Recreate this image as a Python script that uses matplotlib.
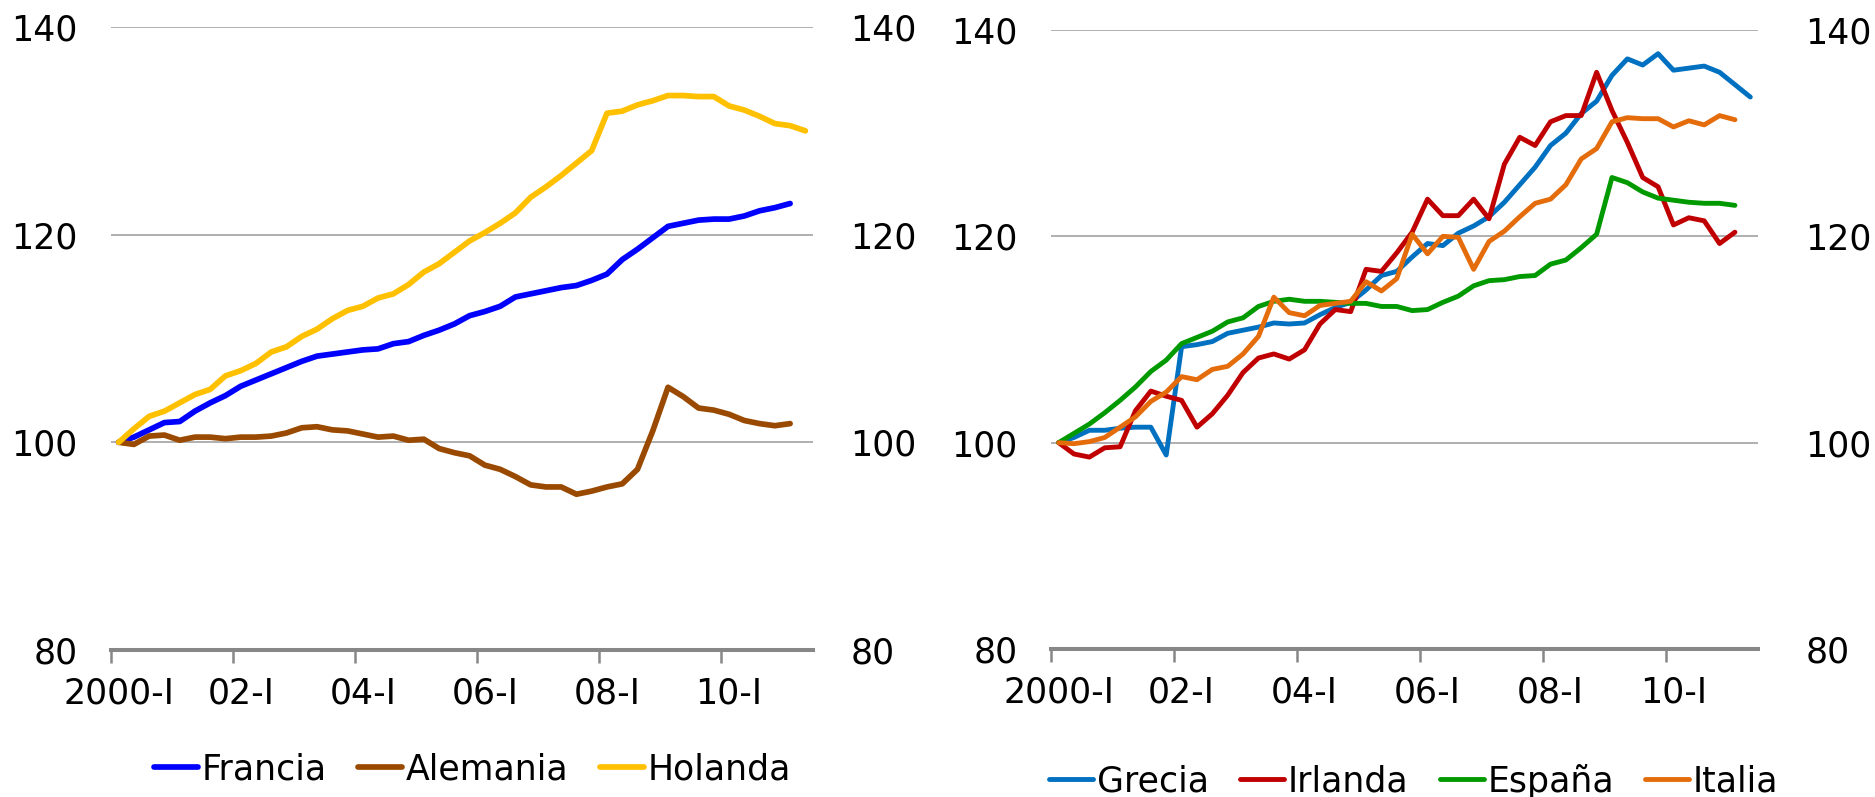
import numpy as np
import matplotlib
matplotlib.use("Agg")
import matplotlib.pyplot as plt

plt.rcParams['font.family'] = ['DejaVu Sans']

# quarterly index, 2000-I = 100
quarter_labels = ["2000-I", "02-I", "04-I", "06-I", "08-I", "10-I"]
n_quarters = 46

francia = [100.0, 100.5, 101.2, 101.9, 102.0, 103.0, 103.8, 104.5, 105.4, 106.0,
           106.6, 107.2, 107.8, 108.3, 108.5, 108.7, 108.9, 109.0, 109.5, 109.7,
           110.3, 110.8, 111.4, 112.2, 112.6, 113.1, 114.0, 114.3, 114.6, 114.9,
           115.1, 115.6, 116.2, 117.6, 118.6, 119.7, 120.8, 121.1, 121.4, 121.5,
           121.5, 121.8, 122.3, 122.6, 123.0]
alemania = [100.0, 99.8, 100.6, 100.7, 100.2, 100.5, 100.5, 100.35, 100.5, 100.5,
            100.6, 100.9, 101.4, 101.5, 101.2, 101.1, 100.8, 100.5, 100.6, 100.2,
            100.3, 99.4, 99.0, 98.7, 97.8, 97.4, 96.7, 95.9, 95.7, 95.7,
            95.0, 95.3, 95.7, 96.0, 97.4, 101.1, 105.3, 104.4, 103.3, 103.1,
            102.7, 102.1, 101.8, 101.6, 101.8]
holanda = [100.0, 101.3, 102.5, 103.0, 103.8, 104.6, 105.1, 106.4, 106.9, 107.6,
           108.7, 109.2, 110.2, 110.9, 111.9, 112.7, 113.1, 113.9, 114.3, 115.2,
           116.4, 117.2, 118.3, 119.4, 120.2, 121.1, 122.1, 123.6, 124.6, 125.7,
           126.9, 128.1, 131.7, 131.9, 132.5, 132.9, 133.4, 133.4, 133.3, 133.3,
           132.4, 132.0, 131.4, 130.7, 130.5, 130.0]

grecia = [100.0, 100.5, 101.2, 101.2, 101.4, 101.5, 101.5, 98.8, 109.3, 109.5,
          109.8, 110.6, 110.9, 111.2, 111.6, 111.5, 111.6, 112.4, 113.1, 113.6,
          114.8, 116.2, 116.6, 118.0, 119.3, 119.1, 120.3, 121.0, 121.9, 123.3,
          125.0, 126.7, 128.8, 130.0, 131.9, 133.1, 135.6, 137.2, 136.6, 137.7,
          136.1, 136.3, 136.5, 135.9, 134.7, 133.5]
irlanda = [100.0, 98.9, 98.6, 99.5, 99.6, 103.1, 105.0, 104.5, 104.1, 101.5,
           102.8, 104.6, 106.8, 108.2, 108.6, 108.1, 109.0, 111.5, 112.9, 112.7,
           116.8, 116.6, 118.4, 120.4, 123.6, 122.0, 122.0, 123.6, 121.7, 127.0,
           129.6, 128.8, 131.1, 131.7, 131.7, 135.9, 132.2, 129.1, 125.7, 124.8,
           121.1, 121.8, 121.5, 119.3, 120.4]
espana = [100.0, 100.9, 101.8, 102.9, 104.1, 105.4, 106.9, 108.0, 109.6, 110.2,
          110.8, 111.7, 112.1, 113.2, 113.7, 113.9, 113.7, 113.7, 113.6, 113.5,
          113.5, 113.2, 113.2, 112.8, 112.9, 113.6, 114.2, 115.2, 115.7, 115.8,
          116.1, 116.2, 117.3, 117.7, 118.9, 120.2, 125.7, 125.2, 124.3, 123.7,
          123.5, 123.3, 123.2, 123.2, 123.0]
italia = [100.0, 99.9, 100.1, 100.5, 101.5, 102.5, 104.0, 104.9, 106.4, 106.1,
          107.1, 107.4, 108.6, 110.3, 114.1, 112.6, 112.3, 113.3, 113.5, 113.7,
          115.6, 114.7, 115.9, 120.2, 118.3, 120.0, 119.9, 116.8, 119.5, 120.5,
          121.9, 123.2, 123.6, 125.0, 127.5, 128.5, 131.1, 131.5, 131.4, 131.4,
          130.6, 131.2, 130.8, 131.7, 131.3]

left_series = [("Francia", francia, "#0000FF"),
               ("Alemania", alemania, "#9A4A00"),
               ("Holanda", holanda, "#FFC000")]
right_series = [("Grecia", grecia, "#0070C0"),
                ("Irlanda", irlanda, "#C00000"),
                ("España", espana, "#009A00"),
                ("Italia", italia, "#E46C0A")]

FS = 25
GRID = "#9a9a9a"
AXIS = "#878787"

fig = plt.figure(figsize=(18.75, 7.97), dpi=100)
ax_l = fig.add_axes([0.0592, 0.1845, 0.3744, 0.7816])
ax_r = fig.add_axes([0.5605, 0.1857, 0.3771, 0.7767])


def style_panel(ax, series, lw, right_pad):
    for name, vals, col in series:
        x = np.arange(len(vals)) + 0.5
        ax.plot(x, vals, color=col, lw=lw, label=name,
                solid_capstyle="round", solid_joinstyle="round")
    ax.set_xlim(0, n_quarters)
    ax.set_ylim(80, 140)
    ax.set_yticks([80, 100, 120, 140])
    ax.yaxis.grid(True, color=GRID, lw=1.1)
    ax.set_axisbelow(True)
    for s in ("left", "right", "top"):
        ax.spines[s].set_visible(False)
    ax.spines["bottom"].set_color(AXIS)
    ax.spines["bottom"].set_linewidth(2.9)
    ax.tick_params(axis="y", length=0, labelsize=FS, pad=24)

    # tick marks between year groups, labels on the first quarter of each
    ax.set_xticks(np.arange(0, 41, 8))
    ax.set_xticklabels([])
    ax.tick_params(axis="x", which="major", length=9.5, width=1.8,
                   color=AXIS, direction="out")
    ax.set_xticks(np.arange(0, 41, 8) + 0.5, minor=True)
    ax.set_xticklabels(quarter_labels, minor=True)
    ax.tick_params(axis="x", which="minor", length=0, labelsize=FS, pad=19)

    twin = ax.twinx()
    twin.set_ylim(80, 140)
    twin.set_yticks([80, 100, 120, 140])
    for s in twin.spines.values():
        s.set_visible(False)
    twin.tick_params(axis="y", length=0, labelsize=FS, pad=right_pad)
    return ax.get_legend_handles_labels()


h_l, l_l = style_panel(ax_l, left_series, 4.1, 27)
h_r, l_r = style_panel(ax_r, right_series, 3.5, 34)

fig.legend(h_l, l_l, loc="center", bbox_to_anchor=(0.252, 0.035), ncol=3,
           frameon=False, fontsize=FS, handlelength=1.27, handletextpad=0.1,
           columnspacing=0.9)
fig.legend(h_r, l_r, loc="center", bbox_to_anchor=(0.754, 0.020), ncol=4,
           frameon=False, fontsize=FS, handlelength=1.27, handletextpad=0.1,
           columnspacing=0.9)

fig.savefig("out.png", dpi=100)
